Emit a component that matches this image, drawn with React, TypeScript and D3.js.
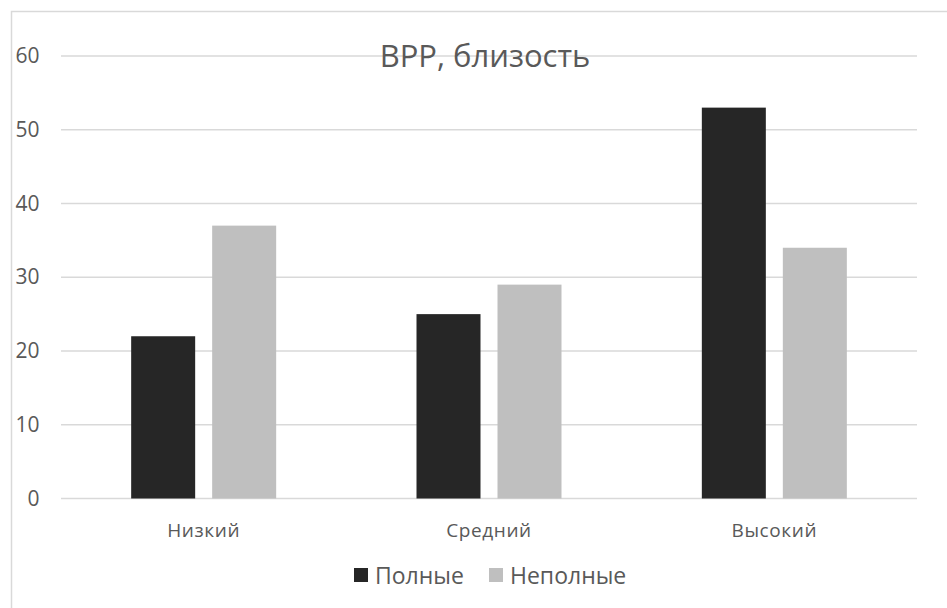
import React, { useEffect, useRef } from 'react';
import * as d3 from 'd3';

const categories = ['Низкий', 'Средний', 'Высокий'];
const seriesNames = ['Полные', 'Неполные'];
const full = [22, 25, 53];
const partial = [37, 29, 34];
const yTicks = [0, 10, 20, 30, 40, 50, 60];
const colors = ['#262626', '#bfbfbf'];

const App: React.FC = () => {
  const svgRef = useRef<SVGSVGElement>(null);

  useEffect(() => {
    if (!svgRef.current) return;
    const svg = d3.select(svgRef.current);
    svg.selectAll('*').remove();

    const W = 947, H = 608;
    const left = 61, right = 917, top = 56, bottom = 498.5;
    const font = '"Open Sans", "Noto Sans", sans-serif';

    // outer chart border
    svg.append('rect')
      .attr('x', 11.5).attr('y', 11.5)
      .attr('width', W + 20).attr('height', H + 20)
      .attr('fill', '#fff').attr('stroke', '#d9d9d9').attr('stroke-width', 1.5);

    const x = d3.scaleBand().domain(categories).range([left, right]).paddingInner(0).paddingOuter(0);
    const y = d3.scaleLinear().domain([0, 60]).range([bottom, top]);

    const rows = categories.map((c, i) => ({ cat: c, values: [full[i], partial[i]] }));

    // gridlines
    svg.append('g').selectAll('line').data(yTicks).enter().append('line')
      .attr('x1', left).attr('x2', right)
      .attr('y1', d => y(d)).attr('y2', d => y(d))
      .attr('stroke', '#d9d9d9').attr('stroke-width', 1.3);

    // y labels
    svg.append('g').selectAll('text').data(yTicks).enter().append('text')
      .attr('x', 39.5).attr('y', d => y(d) + 7)
      .attr('text-anchor', 'end')
      .attr('font-family', font).attr('font-size', 21).attr('fill', '#595959')
      .text(d => d);

    const barW = 64, gap = 17;
    const inner = d3.scaleBand<number>().domain([0, 1]).range([0, barW * 2 + gap]).paddingInner(gap / (barW + gap)).paddingOuter(0);
    const offset = (x.bandwidth() - (barW * 2 + gap)) / 2;

    const groups = svg.append('g').selectAll('g').data(rows).enter().append('g')
      .attr('transform', d => `translate(${x(d.cat)! + offset},0)`);
    groups.selectAll('rect').data(d => d.values).enter().append('rect')
      .attr('x', (_, i) => inner(i)!)
      .attr('width', inner.bandwidth())
      .attr('y', d => y(d))
      .attr('height', d => bottom - y(d))
      .attr('fill', (_, i) => colors[i]);

    // category labels
    svg.append('g').selectAll('text').data(categories).enter().append('text')
      .attr('x', d => x(d)! + x.bandwidth() / 2)
      .attr('y', 537)
      .attr('text-anchor', 'middle')
      .attr('font-family', font).attr('font-size', 19).attr('letter-spacing', 0.6)
      .attr('fill', '#595959')
      .text(d => d);

    // title
    svg.append('text')
      .attr('x', 485).attr('y', 67)
      .attr('text-anchor', 'middle')
      .attr('font-family', font).attr('font-size', 31).attr('fill', '#595959')
      .text('ВРР, близость');

    // legend
    const legendX = [354, 489];
    const lg = svg.append('g').selectAll('g').data(seriesNames).enter().append('g')
      .attr('transform', (_, i) => `translate(${legendX[i]},568)`);
    lg.append('rect').attr('width', 14).attr('height', 14).attr('fill', (_, i) => colors[i]);
    lg.append('text')
      .attr('x', 21).attr('y', 15.5)
      .attr('font-family', font).attr('font-size', 23).attr('fill', '#595959')
      .text(d => d);
  }, []);

  return (
    <svg ref={svgRef} width={947} height={608}
      style={{ position: 'absolute', left: 0, top: 0, display: 'block' }} />
  );
};

export default App;
